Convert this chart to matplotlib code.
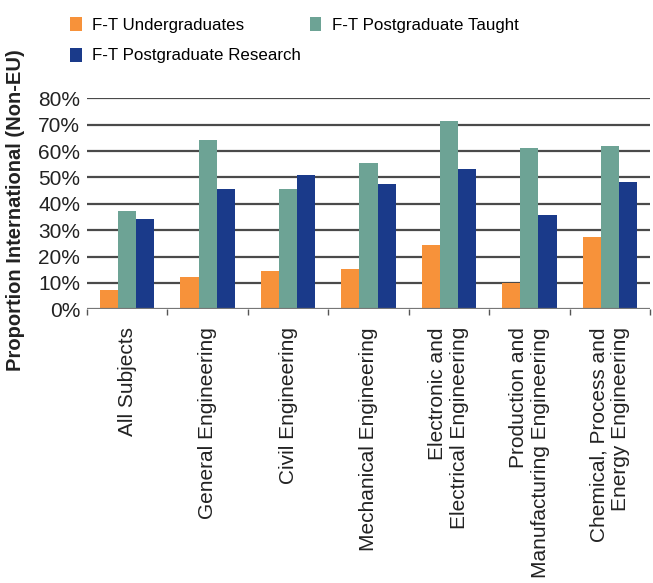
import matplotlib
matplotlib.use("Agg")
import matplotlib.pyplot as plt
import numpy as np

plt.rcParams['font.family'] = ['Liberation Sans', 'DejaVu Sans']

categories = ["All Subjects", "General Engineering", "Civil Engineering",
              "Mechanical Engineering", "Electronic and\nElectrical Engineering",
              "Production and\nManufacturing Engineering",
              "Chemical, Process and\nEnergy Engineering"]
series_names = ["F-T Undergraduates", "F-T Postgraduate Taught", "F-T Postgraduate Research"]
undergrad = [7.3, 12.3, 14.5, 15.3, 24.4, 9.9, 27.4]
pg_taught = [37.3, 64.2, 45.6, 55.5, 71.4, 61.2, 61.9]
pg_research = [34.3, 45.6, 50.9, 47.5, 53.2, 35.8, 48.3]
yticks = [0, 10, 20, 30, 40, 50, 60, 70, 80]
colors = ["#F7923A", "#6DA395", "#1A3A8A"]

fig = plt.figure(figsize=(6.53, 5.83), dpi=100)
ax = fig.add_axes([87/653, 1-309.3/583, (650-87)/653, (309.3-98.3)/583])

x = np.arange(len(categories))
w = 0.225
handles = []
for i, (vals, c, name) in enumerate(zip([undergrad, pg_taught, pg_research], colors, series_names)):
    h = ax.bar(x + (i-1)*w, vals, width=w, color=c, label=name, zorder=3)
    handles.append(h)

ax.set_xlim(-0.5, len(categories)-0.5)
ax.set_ylim(0, 80)
ax.set_yticks(yticks)
ax.set_yticklabels([f"{t}%" for t in yticks], fontsize=15, color='#222222')
for t in yticks[1:]:
    ax.axhline(t, color="#4a4a4a", lw=1.6, zorder=1)
ax.axhline(0, color="#777777", lw=1.6, zorder=4)

for s in ax.spines.values():
    s.set_visible(False)
ax.tick_params(axis='y', length=0, pad=5)
ax.set_xticks(np.arange(len(categories)+1) - 0.5, minor=False)
ax.set_xticklabels([])
ax.tick_params(axis='x', length=4, color="#555555", width=1)
for xi, lab in zip(x, categories):
    ax.text(xi, -0.085, lab, transform=ax.get_xaxis_transform(), rotation=90,
            ha='center', va='top', fontsize=15, multialignment='right', color='#222222')

fig.text(16/653, 1-210/583, "Proportion International (Non-EU)", rotation=90,
         ha='center', va='center', fontsize=14.5, fontweight='bold', color='#222222')

order = [0, 2, 1]
fig.legend([handles[i] for i in order], [series_names[i] for i in order],
           loc='upper left', bbox_to_anchor=(55/653, 1-2/583), ncol=2, frameon=False,
           fontsize=12.2, handlelength=0.7, handleheight=0.9, handletextpad=0.6,
           columnspacing=0.5, labelspacing=0.85)

fig.savefig("out.png", dpi=100)
